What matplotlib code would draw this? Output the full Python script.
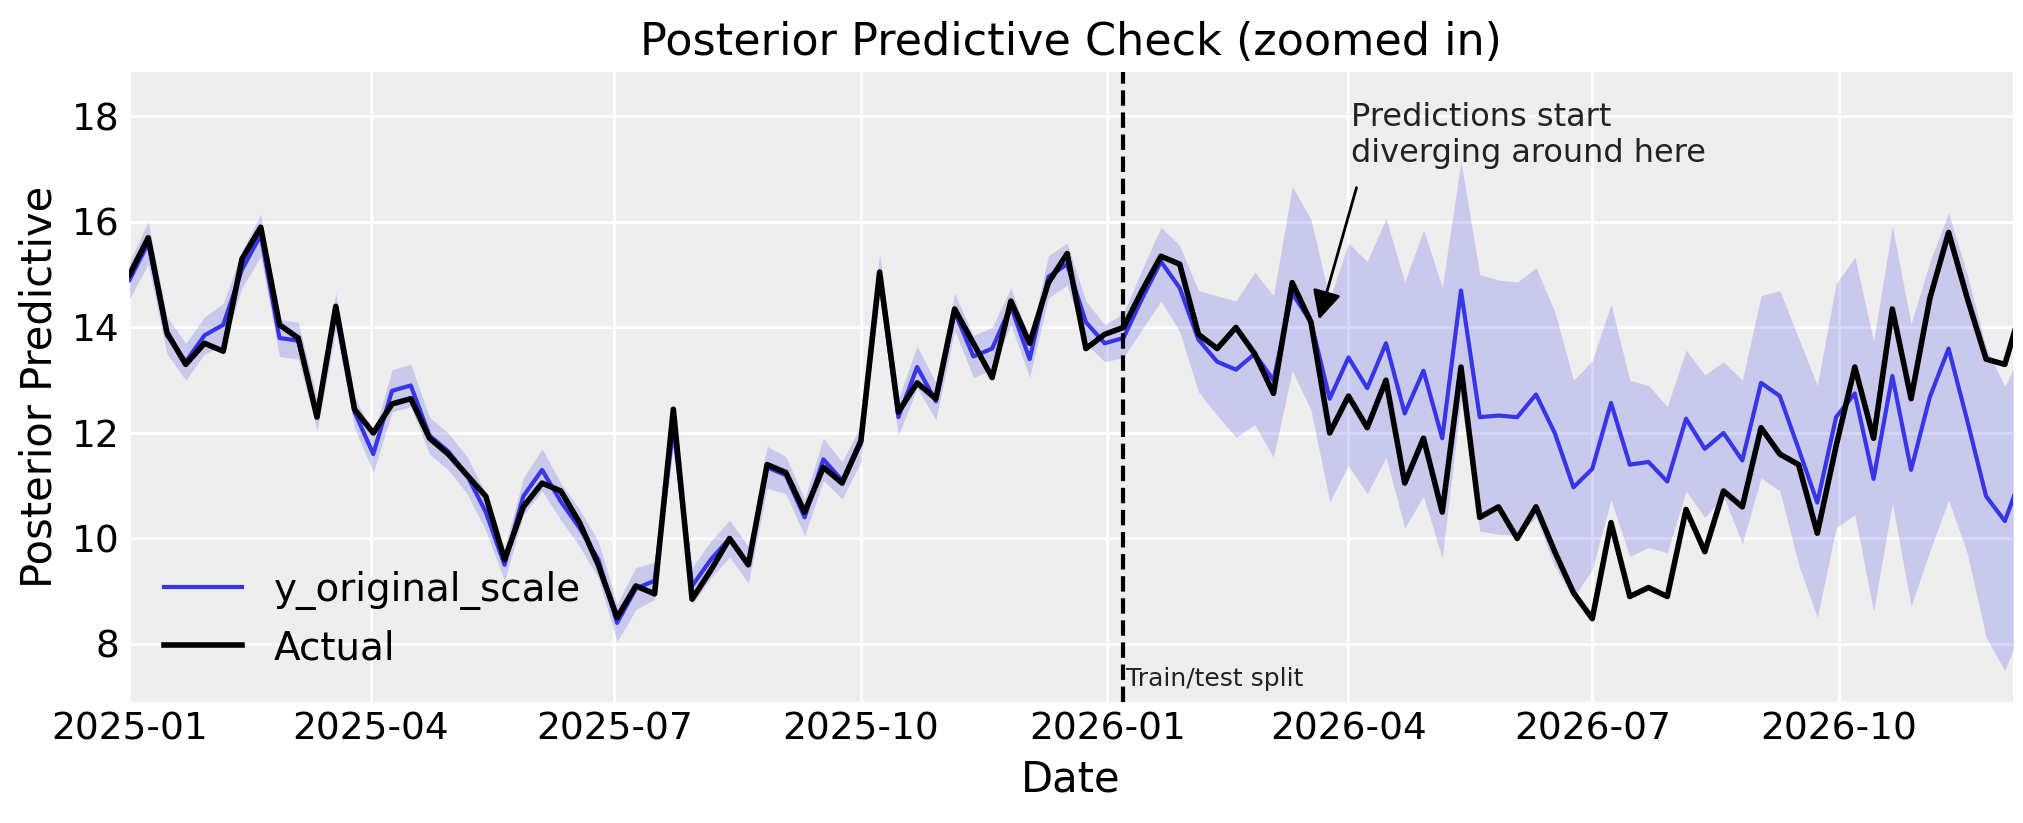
import numpy as np
import pandas as pd
import matplotlib.pyplot as plt

dates = pd.date_range('2025-01-01', periods=102, freq='7D')

actual = [15.0, 15.7, 13.9, 13.3, 13.7, 13.55, 15.3, 15.9, 14.05, 13.8, 12.3, 14.4, 12.45, 12.0, 12.55, 12.65,
          11.9, 11.6, 11.2, 10.8, 9.6, 10.6, 11.05, 10.9, 10.3, 9.5, 8.5, 9.1, 8.95, 12.45, 8.85, 9.4, 10.0, 9.5,
          11.4, 11.25, 10.5, 11.35, 11.05, 11.85, 15.05, 12.4, 12.95, 12.65, 14.35, 13.7, 13.05, 14.5, 13.7, 14.85,
          15.4, 13.6, 13.87,
          14.0, 14.7, 15.35, 15.2, 13.87, 13.6, 14.0, 13.5, 12.75, 14.85, 14.1, 12.0, 12.7, 12.1, 13.0, 11.05, 11.9,
          10.5, 13.25, 10.4, 10.6, 10.0, 10.6, 9.75, 8.97, 8.48, 10.3, 8.9, 9.07, 8.9, 10.55, 9.75, 10.9, 10.6, 12.1,
          11.6, 11.4, 10.1, 11.75, 13.25, 11.9, 14.35, 12.65, 14.55, 15.8, 14.55, 13.4, 13.3, 14.5]

pred_mean = [14.9, 15.6, 13.85, 13.35, 13.85, 14.05, 15.1, 15.75, 13.8, 13.75, 12.35, 14.3, 12.4, 11.6, 12.8, 12.9,
             11.95, 11.65, 11.2, 10.5, 9.5, 10.8, 11.3, 10.7, 10.2, 9.6, 8.4, 9.05, 9.2, 12.1, 9.1, 9.6, 10.0, 9.5,
             11.35, 11.2, 10.4, 11.5, 11.1, 11.8, 15.0, 12.3, 13.25, 12.6, 14.3, 13.45, 13.6, 14.4, 13.4, 14.96,
             15.2, 14.1, 13.7,
             13.8, 14.55, 15.25, 14.75, 13.77, 13.35, 13.2, 13.5, 13.0, 14.65, 14.1, 12.65, 13.43, 12.85, 13.7, 12.37,
             13.18, 11.9, 14.7, 12.3, 12.33, 12.3, 12.73, 12.0, 10.97, 11.32, 12.57, 11.4, 11.45, 11.08, 12.27, 11.7,
             12.0, 11.48, 12.95, 12.7, 11.7, 10.68, 12.3, 12.75, 11.13, 13.08, 11.3, 12.68, 13.6, 12.23, 10.8, 10.33,
             11.3]

# half width of the 94% interval over the training weeks
train_hw = [0.35, 0.4, 0.35, 0.35, 0.35, 0.4, 0.35, 0.4, 0.35, 0.35, 0.3, 0.35, 0.3, 0.35, 0.4, 0.4,
            0.35, 0.35, 0.35, 0.35, 0.3, 0.35, 0.4, 0.35, 0.35, 0.35, 0.35, 0.4, 0.35, 0.35, 0.35, 0.35, 0.35, 0.35,
            0.4, 0.35, 0.35, 0.4, 0.35, 0.35, 0.4, 0.35, 0.4, 0.35, 0.35, 0.4, 0.4, 0.35, 0.35, 0.4,
            0.4, 0.4, 0.35]

test_upper = [14.27, 15.1, 15.9, 15.55, 14.7, 14.6, 14.5, 15.05, 14.6, 16.67, 16.05, 14.53, 15.6, 15.25, 16.07,
              14.86, 15.85, 14.76, 17.15, 15.0, 14.9, 14.86, 15.13, 14.3, 13.0, 13.37, 14.44, 13.0, 12.9, 12.5,
              13.57, 13.1, 13.35, 13.0, 14.6, 14.7, 13.8, 12.9, 14.83, 15.33, 13.74, 15.92, 14.07, 15.24, 16.17,
              15.0, 13.62, 12.88, 13.6]
test_lower = [13.43, 13.97, 14.5, 13.92, 12.78, 12.33, 11.92, 12.16, 11.54, 13.18, 12.44, 10.7, 11.38, 10.85, 11.54,
              10.2, 10.8, 9.63, 12.63, 10.14, 10.08, 10.06, 10.4, 9.47, 8.87, 9.42, 10.73, 9.66, 9.83, 9.73, 10.9,
              10.4, 10.8, 9.9, 11.15, 10.9, 9.51, 8.5, 10.2, 10.45, 8.62, 10.67, 8.72, 9.76, 10.73, 9.71, 8.13,
              7.49, 8.4]

split_date = pd.Timestamp('2026-01-07')

mean = np.array(pred_mean)
upper = np.concatenate([mean[:53] + np.array(train_hw), test_upper])
lower = np.concatenate([mean[:53] - np.array(train_hw), test_lower])

blue = '#3636e6'
plt.rcParams['font.family'] = 'DejaVu Sans'
fig, ax = plt.subplots(figsize=(10.115, 4.115), dpi=200)
fig.patch.set_facecolor('white')
ax.set_facecolor('#eeeeee')
for s in ax.spines.values():
    s.set_visible(False)
ax.grid(True, color='white', linewidth=1.0)
ax.set_axisbelow(True)
ax.tick_params(length=0, labelsize=13.5)

ax.fill_between(dates, lower, upper, color=blue, alpha=0.2, linewidth=0)
ax.plot(dates, mean, color=blue, linewidth=1.5, label='y_original_scale')
ax.plot(dates, actual, color='black', linewidth=2, label='Actual')
ax.axvline(split_date, color='black', linestyle='--', linewidth=1.5)
ax.text(split_date + pd.Timedelta(days=1), 7.2, 'Train/test split', fontsize=9, color='#222222')

# arrow and label
ax.annotate('', xy=(dates[63] + pd.Timedelta(days=3), 14.15),
            xytext=(dates[64] + pd.Timedelta(days=10), 16.65),
            arrowprops=dict(arrowstyle='-|>', color='black', lw=1, mutation_scale=22,
                            shrinkA=0, shrinkB=0))
ax.text(dates[65] + pd.Timedelta(days=1), 17.0, 'Predictions start\ndiverging around here',
        fontsize=11.5, color='#222222', ha='left', va='bottom')

ax.set_xlim(dates[0], dates[100] + pd.Timedelta(days=3))
ax.set_ylim(6.9, 18.85)
ax.set_yticks([8, 10, 12, 14, 16, 18])
ax.set_xticks(pd.to_datetime(['2025-01-01', '2025-04-01', '2025-07-01', '2025-10-01',
                              '2026-01-01', '2026-04-01', '2026-07-01', '2026-10-01']))
ax.set_xticklabels(['2025-01', '2025-04', '2025-07', '2025-10', '2026-01', '2026-04', '2026-07', '2026-10'])
ax.set_xlabel('Date', fontsize=15)
ax.set_ylabel('Posterior Predictive', fontsize=15)
ax.set_title('Posterior Predictive Check (zoomed in)', fontsize=16)
ax.legend(loc='lower left', fontsize=14, frameon=False, handlelength=2)

fig.subplots_adjust(left=0.064, right=0.995, top=0.913, bottom=0.147)
fig.savefig('out.png', dpi=200)
